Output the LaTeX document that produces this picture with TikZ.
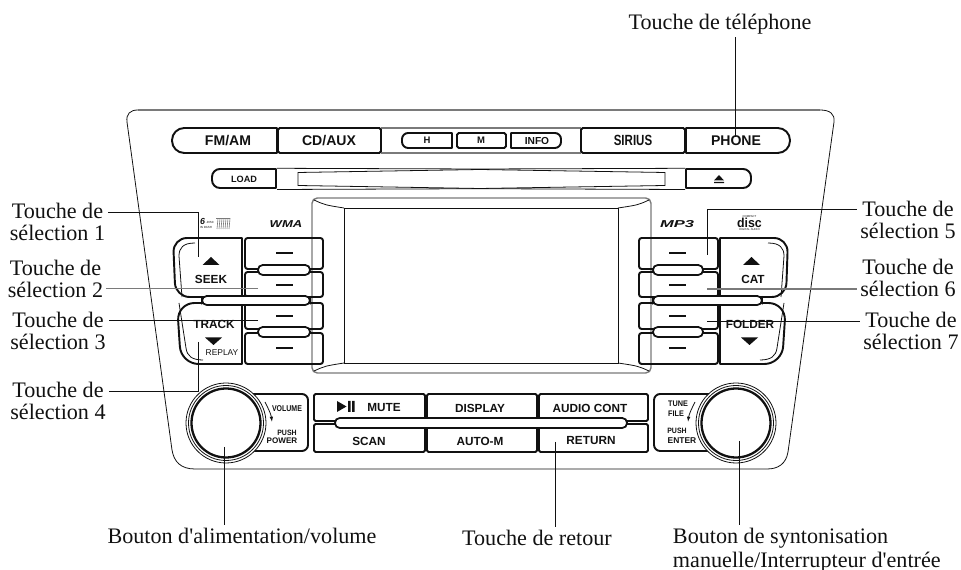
\documentclass[tikz,border=0pt]{standalone}
\usepackage{fontspec}
\newfontfamily\labserif{Liberation Serif}
\newfontfamily\capsans{Liberation Sans}
\usetikzlibrary{arrows.meta}
\definecolor{ink}{HTML}{111111}
\definecolor{frame}{HTML}{7A7A7A}
\tikzset{btn/.style={draw=ink,line width=1.1pt,line join=round},
pill/.style={draw=ink,line width=1pt,fill=white,rounded corners=2.7pt},
thinline/.style={draw=ink,line width=.45pt},
greyline/.style={draw=frame,line width=.8pt},
leader/.style={draw=ink,line width=.55pt},
lab/.style={font=\labserif\fontsize{12.6}{12.5}\selectfont,text=ink,align=center,inner sep=1.5pt},
capb/.style={font=\capsans\bfseries\fontsize{#1}{#1}\selectfont,text=ink,inner sep=0},
capr/.style={font=\capsans\fontsize{#1}{#1}\selectfont,text=ink,inner sep=0}}
\begin{document}
\begin{tikzpicture}[x=.02cm,y=-.02cm]
\useasboundingbox (0,0) rectangle (961,570);
% dashboard panel
\draw[greyline] (138,110)--(820,110);
\draw[thinline] (127,122) .. controls (126,114) and (130,110) .. (138,110);
\draw[thinline] (820,110) .. controls (830,110) and (835,114) .. (834,122)--(788,452)
 .. controls (786,464) and (778,469) .. (767,469)--(195,469)
 .. controls (181,469) and (174,462) .. (172,450)--(127,122);
% screen
\draw[greyline,rounded corners=3pt] (312,198) rectangle (651,373);
\draw[thinline] (344,208) rectangle (618,363);
\draw[thinline] (314,200) .. controls (325,205) .. (344,208);
\draw[thinline] (649,200) .. controls (638,205) .. (618,208);
\draw[thinline] (314,371) .. controls (325,366) .. (344,363);
\draw[thinline] (649,371) .. controls (638,366) .. (618,363);
% top row
\draw[greyline] (381,128)--(581,128) (381,153)--(581,153);
\draw[btn] (277,128) [rounded corners=7pt] --(172,128)--(172,153) [sharp corners] --(277,153)--cycle;
\draw[btn,rounded corners=1pt] (278,128) rectangle (381,153);
\draw[btn,rounded corners=1pt] (581,128) rectangle (685,153);
\draw[btn] (686,128) [rounded corners=7pt] --(790,128)--(790,153) [sharp corners] --(686,153)--cycle;
\draw[btn] (452,133) [rounded corners=3.5pt] --(402,133)--(402,148) [sharp corners] --(452,148)--cycle;
\draw[btn,rounded corners=1pt] (457,133) rectangle (506,148);
\draw[btn] (511,133) [rounded corners=3.5pt] --(561,133)--(561,148) [sharp corners] --(511,148)--cycle;
\node[capb=8] (fmam) at (228,141) {FM/AM};
\node[capb=8] (cdaux) at (329,141) {CD/AUX};
\node[capb=5.4] (hbtn) at (427,140.5) {H};
\node[capb=5.4] (mbtn) at (481,140.5) {M};
\node[capb=5.8] (info) at (537,140.5) {INFO};
\node[capb=8.4,xscale=.78] (sirius) at (633,140.5) {SIRIUS};
\node[capb=8] (phone) at (736,141) {PHONE};
% disc slot
\draw[btn] (276,169) [rounded corners=4.5pt] --(212,169)--(212,188) [sharp corners] --(276,188)--cycle;
\draw[btn] (686,169) [rounded corners=4.5pt] --(751,169)--(751,188) [sharp corners] --(686,188)--cycle;
\draw[thinline] (277,168.3)--(480,169)--(685,168.3) (277,189.5)--(480,188.7)--(685,189.5);
\draw[thinline] (298,172.5)--(480,169.5)--(665,172.5)--(665,185.5)--(480,188.5)--(298,185.5)--cycle;
\node[capb=5.2] (load) at (244,179) {LOAD};
\fill[ink] (714,180.5)--(719,175)--(724,180.5)--cycle (714,181.8) rectangle (724,183.2);
% six preset keys on either side of the screen
\foreach \xa/\xb in {245/323,639/718}
 {\foreach \ya/\yb in {238/269,272/297,303/329,333/364}
   {\draw[btn,rounded corners=1.5pt] (\xa,\ya) rectangle (\xb,\yb);}}
\foreach \xa in {276,669}
 {\foreach \y in {253,285,316,348}
   {\draw[btn] (\xa,\y)--(\xa+17,\y);}}
% seek and track
\draw[btn] (242,297)--(242,238) [rounded corners=8pt] --(173,238)--(175.5,297) [sharp corners] --cycle;
\draw[btn] (242,303)--(242,364) [rounded corners=10pt] --(181,364)--(177,303) [sharp corners] --cycle;
\draw[thinline] (195,243) .. controls (183,243) and (179,248) .. (179,256)--(182,297);
\draw[thinline] (179,303)--(186,348) .. controls (187,356) and (192,360) .. (203,360);
% cat and folder
\draw[btn] (720,297)--(720,238) [rounded corners=8pt] --(788,238)--(786,297) [sharp corners] --cycle;
\draw[btn] (720,303)--(720,364) [rounded corners=10pt] --(782,364)--(786,303) [sharp corners] --cycle;
\draw[thinline] (768,243) .. controls (780,243) and (784,248) .. (784,256)--(781,297);
\draw[thinline] (784,303)--(777,348) .. controls (776,356) and (771,360) .. (760,360);
% bars between the keys
\draw[pill] (258,265) rectangle (310,275);
\draw[pill] (202,296) rectangle (310,305);
\draw[pill] (258,327) rectangle (310,337);
\draw[pill] (653,265) rectangle (703,275);
\draw[pill] (653,296) rectangle (762,305);
\draw[pill] (653,327) rectangle (703,337);
\node[capb=6.7] (seek) at (211,279) {SEEK};
\node[capb=6.7] (track) at (214,324) {TRACK};
\node[capr=4.8] (replay) at (222,353) {REPLAY};
\node[capb=6.7] (cat) at (753,279) {CAT};
\node[capb=6.7] (folder) at (750,324) {FOLDER};
\fill[ink] (202.5,265)--(211,257)--(219.5,265)--cycle;
\fill[ink] (205,337.5)--(213.5,345)--(222,337.5)--cycle;
\fill[ink] (743,265)--(751.5,257)--(760,265)--cycle;
\fill[ink] (741,337.5)--(749.5,345)--(758,337.5)--cycle;
% logos
\node[capb=5.7,font=\capsans\bfseries\itshape\fontsize{5.7}{5.7}\selectfont,xscale=1.3] (wma) at (286,224) {WMA};
\node[capb=5.7,font=\capsans\bfseries\itshape\fontsize{5.7}{5.7}\selectfont,xscale=1.65] (mp3) at (677,224) {MP3};
\node[capb=4,font=\capsans\bfseries\itshape\fontsize{5}{5}\selectfont] (sixd) at (202.5,221) {6};
\node[capr=1.7] (discw) at (210,222) {-DISC};
\node[capr=1.7] (dashw) at (206,227) {IN DASH};
\foreach \x in {216,218,...,228}
 {\draw[frame,line width=.35pt] (\x,218.5)--(\x+2,218.5)--(\x+1,229);}
\node[capb=7.4,xscale=.95] (disc) at (749.5,223) {disc};
\node[capr=1.6] (compact) at (749.5,216.5) {COMPACT};
\node[capr=1.6] (digital) at (749.5,229.5) {DIGITAL AUDIO};
% knobs
\draw[btn] (250,394) [rounded corners=3.5pt] --(308,394)--(308,451) [sharp corners] --(250,451);
\draw[btn] (710,394) [rounded corners=3.5pt] --(654,394)--(654,451) [sharp corners] --(710,451);
\foreach \xa in {226,736}
 {\draw[thinline,fill=white] (\xa,423) circle[radius=40*.02cm];
  \draw[thinline] (\xa,423) circle[radius=37.5*.02cm];
  \draw[btn,line width=1.3pt] (\xa,423) circle[radius=34.5*.02cm];}
\draw[thinline,-{Latex[length=3pt,width=2pt]}] (265,402) .. controls (268,408) and (271,414) .. (272,422);
\draw[thinline,-{Latex[length=3pt,width=2pt]}] (695,402) .. controls (692,408) and (689,414) .. (688,422);
\node[capb=4.8,xscale=.83] (volume) at (287,409) {VOLUME};
\node[capb=4.4,xscale=.9] (pushl) at (287,433) {PUSH};
\node[capb=4.6] (power) at (282,441) {POWER};
\node[capb=4.6,xscale=.9] (tune) at (678,404) {TUNE};
\node[capb=4.6,xscale=.9] (file) at (676,414) {FILE};
\node[capb=4.4,xscale=.9] (pushr) at (677,431) {PUSH};
\node[capb=4.8] (enter) at (682,441) {ENTER};
% centre keys
\foreach \xa/\xb in {314/425,427/537,539/648}
 {\foreach \ya/\yb in {394/421,424/452}
   {\draw[btn,rounded corners=.8pt] (\xa,\ya) rectangle (\xb,\yb);}}
\draw[pill] (335,418) rectangle (627,428);
\fill[ink] (337,401)--(346.5,406.5)--(337,412)--cycle (348,401) rectangle (350.5,412) (352,401) rectangle (354.5,412);
\node[capb=6.7] (mute) at (384,408) {MUTE};
\node[capb=6.7] (display) at (480,408) {DISPLAY};
\node[capb=6.7] (audio) at (590,408) {AUDIO CONT};
\node[capb=6.7] (scan) at (369,441) {SCAN};
\node[capb=6.7] (autom) at (480,441) {AUTO-M};
\node[capb=6.7] (return) at (591,441) {RETURN};
% labels
\node[lab] (sel1) at (57.5,221.5) {Touche de\\sélection 1};
\node[lab] (sel2) at (55.5,278.5) {Touche de\\sélection 2};
\node[lab] (sel3) at (58,330.5) {Touche de\\sélection 3};
\node[lab] (sel4) at (58,401) {Touche de\\sélection 4};
\node[lab] (sel5) at (908,220) {Touche de\\sélection 5};
\node[lab] (sel6) at (908,278) {Touche de\\sélection 6};
\node[lab] (sel7) at (911,330.5) {Touche de\\sélection 7};
\node[lab] (tel) at (720,24) {Touche de téléphone};
\node[lab] (alim) at (242,535.5) {Bouton d'alimentation/volume};
\node[lab] (retour) at (537,537.5) {Touche de retour};
\node[lab,align=left,anchor=west] (synt) at (670,550) {Bouton de syntonisation\\[1pt]manuelle/Interrupteur d'entrée};
% leaders
\coordinate (sel1in) at (198,257);
\coordinate (sel1up) at (198,212);
\coordinate (sel2in) at (258,288.5);
\coordinate (sel3in) at (258,320);
\coordinate (sel4in) at (198,342);
\coordinate (sel4up) at (198,391);
\coordinate (sel5in) at (707,255);
\coordinate (sel5up) at (707,209);
\coordinate (sel6in) at (707,289);
\coordinate (sel7in) at (707,321);
\coordinate (telin) at (735,137);
\coordinate (alimin) at (224.5,447);
\coordinate (retourin) at (555,442);
\coordinate (syntin) at (739,441);
\draw[leader] (sel1in)--(sel1up)--(sel1up -| sel1.east);
\draw[leader,frame,line width=.8pt] (sel2in)--(sel2in -| sel2.east);
\draw[leader] (sel3in)--(sel3in -| sel3.east);
\draw[leader] (sel4in)--(sel4up)--(sel4up -| sel4.east);
\draw[leader] (sel5in)--(sel5up)--(sel5up -| sel5.west);
\draw[leader,frame,line width=.8pt] (sel6in)--(sel6in -| sel6.west);
\draw[leader] (sel7in)--(sel7in -| sel7.west);
\draw[leader] (telin)--(telin |- tel.south);
\draw[leader] (alimin)--(alimin |- alim.north);
\draw[leader] (retourin)--(retourin |- retour.north);
\draw[leader] (syntin)--(syntin |- synt.north);
\end{tikzpicture}
\end{document}
